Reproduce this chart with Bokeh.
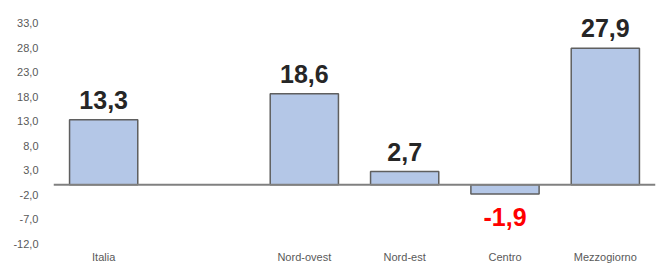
from bokeh.plotting import figure
from bokeh.models import ColumnDataSource, FactorRange, Range1d, FixedTicker, Span
from bokeh.core.properties import value
from bokeh.embed import file_html
from bokeh.resources import INLINE

categories = ["Italia", " ", "Nord-ovest", "Nord-est", "Centro", "Mezzogiorno"]
bar_categories = ["Italia", "Nord-ovest", "Nord-est", "Centro", "Mezzogiorno"]
bar_values = [13.3, 18.6, 2.7, -1.9, 27.9]
y_ticks = [-12, -7, -2, 3, 8, 13, 18, 23, 28, 33]

labels = [f"{v:.1f}".replace(".", ",") for v in bar_values]

src = ColumnDataSource(dict(x=bar_categories, top=bar_values, label=labels))
pos_src = ColumnDataSource(dict(x=[c for c, v in zip(bar_categories, bar_values) if v >= 0],
                                top=[v for v in bar_values if v >= 0],
                                label=[l for l, v in zip(labels, bar_values) if v >= 0]))
neg_src = ColumnDataSource(dict(x=[c for c, v in zip(bar_categories, bar_values) if v < 0],
                                top=[v for v in bar_values if v < 0],
                                label=[l for l, v in zip(labels, bar_values) if v < 0]))

p = figure(x_range=FactorRange(factors=categories), y_range=Range1d(-12, 36),
           width=660, height=265, output_backend="svg", toolbar_location=None,
           min_border_left=53, min_border_right=5, min_border_top=8, min_border_bottom=0)
p.outline_line_color = None
p.xgrid.grid_line_color = None
p.ygrid.grid_line_color = None

p.vbar(x="x", top="top", bottom=0, width=0.68, source=src,
       fill_color="#b4c7e7", line_color="#5f5f5f", line_width=1.5)

p.add_layout(Span(location=0, dimension="width", line_color="#808080", line_width=2))

p.text(x="x", y="top", text="label", source=pos_src, text_color="#262626",
       text_font=value("Liberation Sans"), text_font_style="bold",
       text_font_size="25px", text_align="center", text_baseline="bottom",
       y_offset=-11)
p.text(x="x", y="top", text="label", source=neg_src, text_color="#ff0000",
       text_font=value("Liberation Sans"), text_font_style="bold",
       text_font_size="25px", text_align="center", text_baseline="top",
       y_offset=14)

p.yaxis.ticker = FixedTicker(ticks=y_ticks)
p.yaxis.major_label_overrides = {t: f"{t:.1f}".replace(".", ",") for t in y_ticks}
p.yaxis.axis_line_color = None
p.yaxis.major_tick_line_color = None
p.yaxis.minor_tick_line_color = None
p.yaxis.major_tick_out = 0
p.yaxis.major_tick_in = 0
p.yaxis.major_label_text_font = "Liberation Sans"
p.yaxis.major_label_text_font_size = "11px"
p.yaxis.major_label_text_color = "#595959"
p.yaxis.major_label_standoff = 15

p.xaxis.axis_line_color = None
p.xaxis.major_tick_line_color = None
p.xaxis.minor_tick_line_color = None
p.xaxis.major_tick_out = 0
p.xaxis.major_tick_in = 0
p.xaxis.major_label_text_font = "Liberation Sans"
p.xaxis.major_label_text_font_size = "11px"
p.xaxis.major_label_text_color = "#595959"
p.xaxis.major_label_standoff = 7

open("out.html", "w").write(file_html(p, INLINE))
